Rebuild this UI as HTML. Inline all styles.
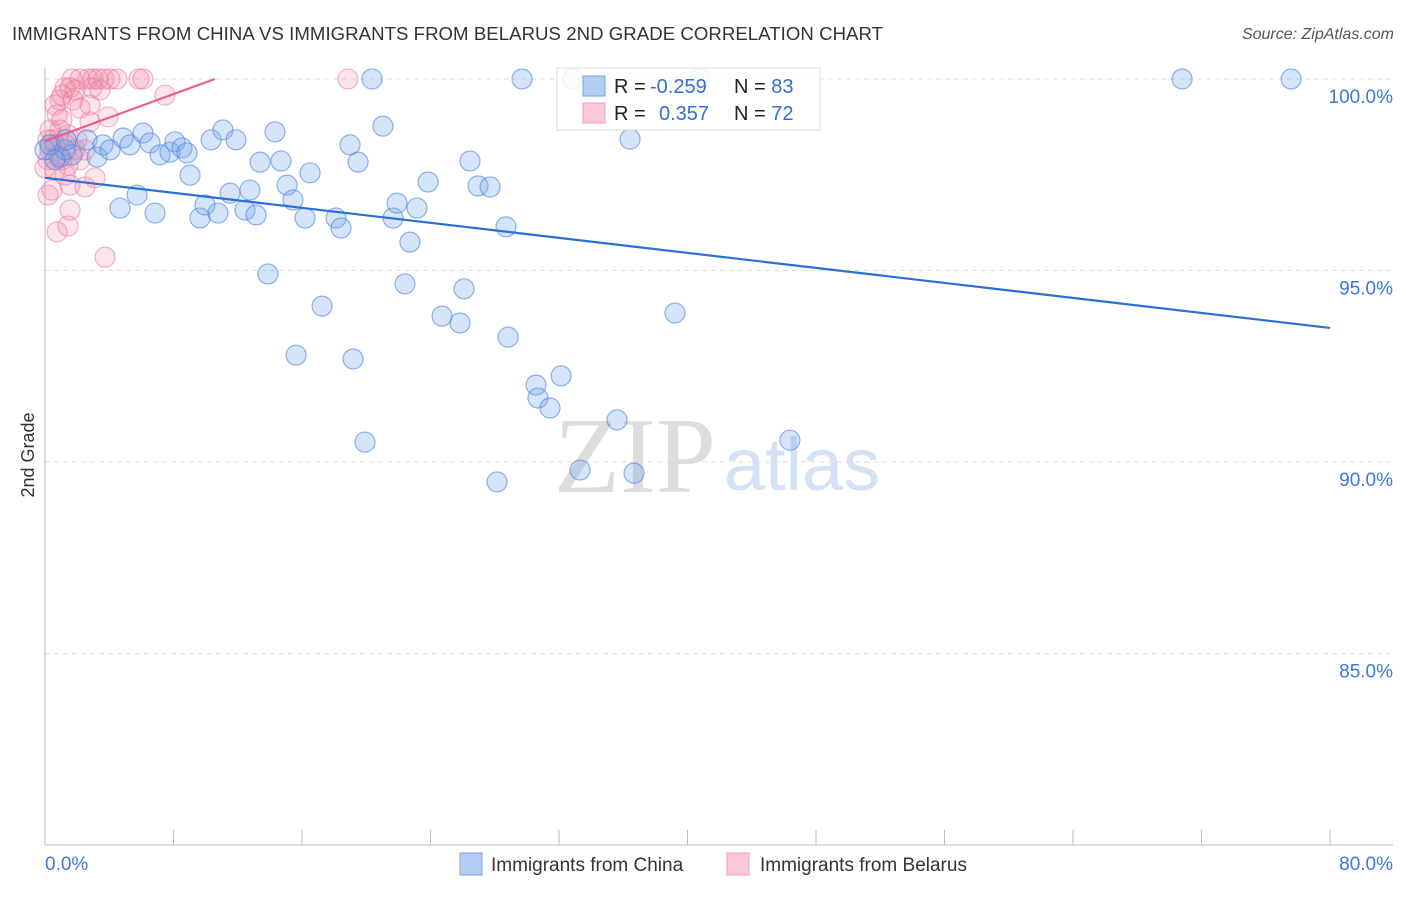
<!DOCTYPE html>
<html><head><meta charset="utf-8"><style>
body{margin:0;background:#fff;font-family:"Liberation Sans",sans-serif}
svg text{font-family:"Liberation Sans",sans-serif}
</style></head><body>
<svg id="c" width="1406" height="892" viewBox="0 0 1406 892">
<text x="12" y="40" font-size="18.6" fill="#333" textLength="871">IMMIGRANTS FROM CHINA VS IMMIGRANTS FROM BELARUS 2ND GRADE CORRELATION CHART</text>
<text x="1394" y="39" font-size="16" fill="#555" text-anchor="end" font-style="italic">Source: ZipAtlas.com</text>
<text x="635" y="492" font-size="108" fill="#ddd" text-anchor="middle" style="font-family:'Liberation Serif',serif">ZIP</text>
<text x="802" y="490" font-size="74" fill="#d3e1f5" text-anchor="middle">atlas</text>
<text transform="translate(34,455) rotate(-90)" font-size="18" fill="#333" text-anchor="middle">2nd Grade</text>
<g id="grid"></g><g id="axes"></g><g id="pts"></g><g id="trend"></g>
<g>
<rect x="557" y="68" width="263" height="62" fill="#fff" fill-opacity="0.85" stroke="#ddd"/>
<rect x="583" y="76" width="22" height="20" fill="#b3cdf2" stroke="#7ba5e6"/>
<rect x="583" y="103" width="22" height="20" fill="#fbc8d7" stroke="#f0a0b9"/>
<text x="614" y="93" font-size="20" fill="#222">R = <tspan x="650" fill="#2f6fd6">-0.259</tspan><tspan x="734">N = </tspan><tspan fill="#2f6fd6">83</tspan></text>
<text x="614" y="120" font-size="20" fill="#222">R = <tspan x="659" fill="#2f6fd6">0.357</tspan><tspan x="734">N = </tspan><tspan fill="#2f6fd6">72</tspan></text>
</g>
<g>
<rect x="460" y="853" width="22" height="22" fill="#b3cdf2" stroke="#7ba5e6"/>
<text x="491" y="871" font-size="19" fill="#333">Immigrants from China</text>
<rect x="727" y="853" width="22" height="22" fill="#fbc8d7" stroke="#f0a0b9"/>
<text x="760" y="871" font-size="19" fill="#333">Immigrants from Belarus</text>
</g>
</svg>
<script>
const chinaX=[32.87,29.70,20.36,40.78,70.79,77.58,34.43,0.93,1.25,1.68,2.61,3.24,3.61,4.05,4.86,5.29,6.10,6.54,7.16,7.78,8.09,8.53,8.84,9.03,10.34,11.08,11.89,4.67,5.73,6.85,9.65,9.96,10.77,11.52,12.45,12.76,13.14,13.39,14.32,14.69,15.07,15.44,16.19,16.50,18.12,18.43,18.99,19.49,21.04,21.67,21.92,22.72,23.16,23.85,26.46,26.96,27.71,28.70,36.42,13.88,17.25,22.41,24.72,25.84,26.09,28.83,15.63,19.18,30.57,30.69,31.44,32.13,35.61,39.22,19.92,46.38,33.31,36.67,28.14,0,0.31,0.62,1.31];
const chinaY=[100,100,100,100,100,100,99.77,97.96,98.15,98.02,98.41,97.96,98.28,98.15,98.46,98.28,98.59,98.33,98.02,98.09,98.36,98.20,98.07,97.49,98.41,98.67,98.41,96.63,96.97,96.50,96.37,96.71,96.50,97.02,96.58,97.10,96.45,97.83,98.62,97.86,97.23,96.84,96.37,97.55,96.37,96.11,98.28,97.83,98.77,96.37,96.76,95.74,96.63,97.31,97.86,97.21,97.18,96.14,98.43,94.91,94.07,94.65,93.81,93.63,94.52,93.26,92.79,92.69,92.01,91.67,91.41,92.25,91.10,93.89,90.52,90.57,89.79,89.71,89.48,98.15,98.28,97.89,98.41];
const belarusX=[1.68,2.18,2.68,2.99,3.30,3.67,4.05,4.48,5.85,6.10,18.86,1.25,1.56,1.87,2.93,0.93,0.62,1.74,2.18,7.47,3.92,0.75,1.06,0.31,0.93,1.43,2.80,0.62,0.31,0.19,0.62,1.25,0,1.56,2.49,3.11,0.44,0.19,1.56,0.75,1.43,3.74,1.87,2.18,1.06,0.81,0.50,0.19,1.31,2.49,1.99,1.43,2.80,3.42,1.06];
const belarusY=[100,100,100,100,100,100,100,100,100,100,100,99.77,99.77,99.71,99.77,99.45,99.32,99.45,99.24,99.58,99.01,99.06,98.93,98.67,98.67,98.54,98.88,98.28,98.15,97.89,97.62,97.49,97.68,97.23,97.18,97.42,97.10,96.97,96.58,96.01,96.16,95.35,98.15,97.89,97.89,98.02,98.41,98.41,98.28,98.15,98.41,97.75,99.32,99.71,99.58];
const chinaTrend=[97.42,93.5];
const belarusTrend=[98.38,100];
const belarusTrendEnd=10.58;
const yTicks=[100,95,90,85];
const yTickLabels=["100.0%","95.0%","90.0%","85.0%"];
const xTicks=[0,8,16,24,32,40,48,56,64,72,80];

const NS="http://www.w3.org/2000/svg";
const X=v=>45+v/80*1285;
const Y=v=>79+(100-v)*38.3;
function mk(tag,attrs,parent){const e=document.createElementNS(NS,tag);for(const k in attrs)e.setAttribute(k,attrs[k]);document.getElementById(parent).appendChild(e);return e;}
yTicks.forEach((t,i)=>{
  const l=mk('line',{x1:45,x2:1393,y1:Y(t),y2:Y(t),stroke:'#ddd','stroke-dasharray':'5,4'},'grid');
  
  
  const tx=mk('text',{x:1393,y:Y(t)+24,'font-size':19,fill:'#3b78d8','text-anchor':'end'},'grid');
  tx.textContent=yTickLabels[i];
  
  
});
const ax=mk('line',{x1:45,x2:45,y1:68,y2:845,stroke:'#bbb'},'axes');


const bx=mk('line',{x1:45,x2:1393,y1:845,y2:845,stroke:'#bbb'},'axes');


xTicks.forEach(t=>{
  const l=mk('line',{x1:X(t),x2:X(t),y1:830,y2:845,stroke:'#bbb'},'axes');
  
  
});
const xl0=mk('text',{x:45,y:870,'font-size':19,fill:'#3b78d8'},'axes');xl0.textContent=xTicks[0].toFixed(1)+"%";


const xl1=mk('text',{x:1393,y:870,'font-size':19,fill:'#3b78d8','text-anchor':'end'},'axes');xl1.textContent=xTicks[xTicks.length-1].toFixed(1)+"%";


belarusX.forEach((v,i)=>{
  const c=mk('circle',{cx:X(v),cy:Y(belarusY[i]),r:10,fill:'rgba(240,130,165,0.22)',stroke:'rgba(232,120,155,0.55)','stroke-width':1.2},'pts');
  
  
});
chinaX.forEach((v,i)=>{
  const c=mk('circle',{cx:X(v),cy:Y(chinaY[i]),r:10,fill:'rgba(120,165,235,0.3)',stroke:'rgba(70,130,220,0.6)','stroke-width':1.2},'pts');
  
  
});
const t1=mk('line',{x1:X(0),y1:Y(chinaTrend[0]),x2:X(80),y2:Y(chinaTrend[1]),stroke:'#2a6fd6','stroke-width':2.2},'trend');


const t2=mk('line',{x1:X(0),y1:Y(belarusTrend[0]),x2:X(belarusTrendEnd),y2:Y(belarusTrend[1]),stroke:'#e8618c','stroke-width':2.2},'trend');


</script>
</body></html>
